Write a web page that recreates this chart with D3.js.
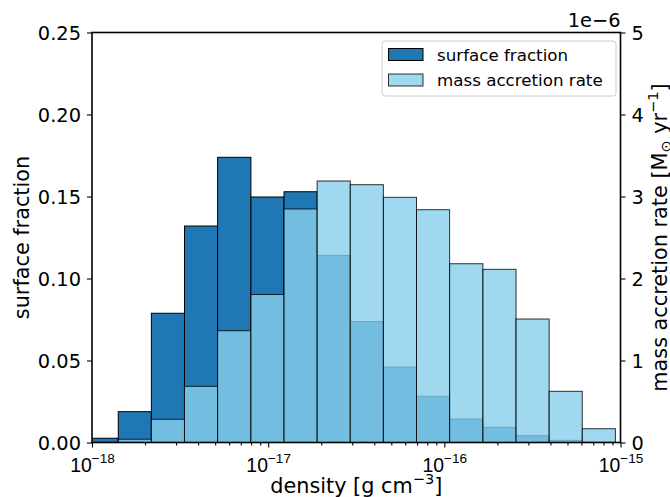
<!DOCTYPE html>
<html>
<head>
<meta charset="utf-8">
<script src="https://cdn.jsdelivr.net/npm/d3@7"></script>
<style>
  html, body { margin: 0; padding: 0; background: #fff; }
  svg { display: block; font-family: "DejaVu Sans", sans-serif; }
</style>
</head>
<body>
<svg id="chart" width="670" height="497"></svg>
<script>
// Histogram bin edges, as log10(density / g cm^-3)
const binEdgesLog = [-18.039, -17.851, -17.663, -17.475, -17.287, -17.098, -16.910, -16.722,
  -16.534, -16.346, -16.158, -15.970, -15.781, -15.593, -15.405, -15.217, -15.029];

// Fraction of the surface in each density bin
const surfaceFraction = [0.0026, 0.0188, 0.0788, 0.1320, 0.1739, 0.1497, 0.1529, 0.1141,
  0.0737, 0.0460, 0.0282, 0.0143, 0.0093, 0.0041, 0.0013, 0.0003];

// Mass accretion rate per bin, in units of 1e-6 Msun/yr
const accretionRate = [0.0, 0.04, 0.283, 0.685, 1.363, 1.805, 2.848, 3.189,
  3.144, 2.990, 2.839, 2.180, 2.112, 1.506, 0.624, 0.168];

const xMajorTicks = [1e-18, 1e-17, 1e-16, 1e-15];
const xMajorExponents = ["−18", "−17", "−16", "−15"];
const leftTicks = [0, 0.05, 0.10, 0.15, 0.20, 0.25];
const rightTicks = [0, 1, 2, 3, 4, 5];

const margin = { left: 92, right: 620.5, top: 32.5, bottom: 442.5 };
const svg = d3.select("#chart");

const x = d3.scaleLog().domain([1e-18, 1e-15]).range([margin.left, margin.right]);
const yL = d3.scaleLinear().domain([0, 0.25]).range([margin.bottom, margin.top]);
const yR = d3.scaleLinear().domain([0, 5]).range([margin.bottom, margin.top]);

const bins = d3.range(surfaceFraction.length).map(i => ({
  x0: Math.pow(10, binEdgesLog[i]),
  x1: Math.pow(10, binEdgesLog[i + 1]),
  sf: surfaceFraction[i],
  ar: accretionRate[i]
}));

svg.append("defs").append("clipPath").attr("id", "plotClip")
  .append("rect")
  .attr("x", margin.left).attr("y", margin.top)
  .attr("width", margin.right - margin.left)
  .attr("height", margin.bottom - margin.top);

const plot = svg.append("g").attr("clip-path", "url(#plotClip)");

// Surface fraction bars (left axis)
plot.append("g").selectAll("rect").data(bins).join("rect")
  .attr("x", d => x(d.x0))
  .attr("width", d => x(d.x1) - x(d.x0))
  .attr("y", d => yL(d.sf))
  .attr("height", d => yL(0) - yL(d.sf))
  .attr("fill", "#1f77b4")
  .attr("stroke", "#000")
  .attr("stroke-width", 1);

// Mass accretion rate bars (right axis), semi-transparent on top
plot.append("g").selectAll("rect").data(bins).join("rect")
  .attr("x", d => x(d.x0))
  .attr("width", d => x(d.x1) - x(d.x0))
  .attr("y", d => yR(d.ar))
  .attr("height", d => yR(0) - yR(d.ar))
  .attr("fill", "skyblue")
  .attr("fill-opacity", 0.8)
  .attr("stroke", "#000")
  .attr("stroke-opacity", 0.8)
  .attr("stroke-width", 1);

const tickFont = 19.4;
const axisStroke = 1.6;

function styleAxis(g) {
  g.select(".domain").remove();
  g.selectAll(".tick line").attr("stroke", "#000").attr("stroke-width", 1.1);
  g.selectAll(".tick text").attr("fill", "#000").attr("font-size", tickFont)
    .attr("font-family", "DejaVu Sans");
}

// Bottom axis: major ticks with power-of-ten labels, minor ticks between
const xMinor = [];
[-18, -17, -16].forEach(e => { for (let k = 2; k <= 9; k++) xMinor.push(k * Math.pow(10, e)); });

svg.append("g").attr("transform", `translate(0,${margin.bottom})`)
  .call(d3.axisBottom(x).tickValues(xMinor).tickSize(3).tickFormat(""))
  .call(styleAxis);

const xAxisG = svg.append("g").attr("transform", `translate(0,${margin.bottom})`)
  .call(d3.axisBottom(x).tickValues(xMajorTicks).tickSize(5).tickPadding(8).tickFormat(""))
  .call(styleAxis);

xAxisG.selectAll(".tick").each(function (d, i) {
  const t = d3.select(this).append("text")
    .attr("y", 29).attr("text-anchor", "middle")
    .attr("font-size", tickFont).attr("fill", "#000");
  t.append("tspan").text("10");
  t.append("tspan").attr("dy", -9).attr("font-size", tickFont * 0.7).text(xMajorExponents[i]);
});

// Left axis
svg.append("g").attr("transform", `translate(${margin.left},0)`)
  .call(d3.axisLeft(yL).tickValues(leftTicks).tickSize(5).tickPadding(6).tickFormat(d3.format(".2f")))
  .call(styleAxis)
  .selectAll(".tick text").attr("dy", "0.36em");

// Right axis
svg.append("g").attr("transform", `translate(${margin.right},0)`)
  .call(d3.axisRight(yR).tickValues(rightTicks).tickSize(5).tickPadding(6).tickFormat(d3.format("d")))
  .call(styleAxis)
  .selectAll(".tick text").attr("dy", "0.36em");

// Spines
svg.append("rect")
  .attr("x", margin.left).attr("y", margin.top)
  .attr("width", margin.right - margin.left)
  .attr("height", margin.bottom - margin.top)
  .attr("fill", "none").attr("stroke", "#000").attr("stroke-width", axisStroke);

// Offset text for the right axis
svg.append("text")
  .attr("x", margin.right).attr("y", 27)
  .attr("text-anchor", "end").attr("font-size", tickFont).attr("fill", "#000")
  .text("1e−6");

// Axis labels
const labelFont = 20.8;
svg.append("text")
  .attr("transform", `translate(29,${(margin.top + margin.bottom) / 2}) rotate(-90)`)
  .attr("text-anchor", "middle").attr("font-size", labelFont).attr("fill", "#000")
  .text("surface fraction");

const xl = svg.append("text")
  .attr("x", (margin.left + margin.right) / 2).attr("y", 493)
  .attr("text-anchor", "middle").attr("font-size", labelFont).attr("fill", "#000");
xl.append("tspan").text("density [g cm");
xl.append("tspan").attr("dy", -9).attr("font-size", labelFont * 0.7).text("−3");
xl.append("tspan").attr("dy", 9).text("]");

const yrl = svg.append("text")
  .attr("transform", `translate(667,${(margin.top + margin.bottom) / 2}) rotate(-90)`)
  .attr("text-anchor", "middle").attr("font-size", labelFont).attr("fill", "#000");
yrl.append("tspan").text("mass accretion rate [M");
yrl.append("tspan").attr("dy", 4).attr("font-size", labelFont * 0.7).text("⊙");
yrl.append("tspan").attr("dy", -4).text(" yr");
yrl.append("tspan").attr("dy", -9).attr("font-size", labelFont * 0.7).text("−1");
yrl.append("tspan").attr("dy", 9).text("]");

// Legend
const legendItems = [
  { label: "surface fraction", fill: "#1f77b4", fillOpacity: 1, strokeOpacity: 1 },
  { label: "mass accretion rate", fill: "skyblue", fillOpacity: 0.8, strokeOpacity: 0.8 }
];
const legend = svg.append("g");
legend.append("rect")
  .attr("x", 382).attr("y", 41).attr("width", 234).attr("height", 55)
  .attr("rx", 3).attr("fill", "#fff").attr("fill-opacity", 0.8)
  .attr("stroke", "#ccc").attr("stroke-width", 1);
const li = legend.selectAll("g.item").data(legendItems).join("g")
  .attr("class", "item")
  .attr("transform", (d, i) => `translate(0,${i * 25.5})`);
li.append("rect")
  .attr("x", 388.5).attr("y", 48.5).attr("width", 34.5).attr("height", 12)
  .attr("fill", d => d.fill).attr("fill-opacity", d => d.fillOpacity)
  .attr("stroke", "#000").attr("stroke-opacity", d => d.strokeOpacity).attr("stroke-width", 1);
li.append("text")
  .attr("x", 437).attr("y", 60.5)
  .attr("font-size", 16.7).attr("fill", "#000")
  .text(d => d.label);
</script>
</body>
</html>
